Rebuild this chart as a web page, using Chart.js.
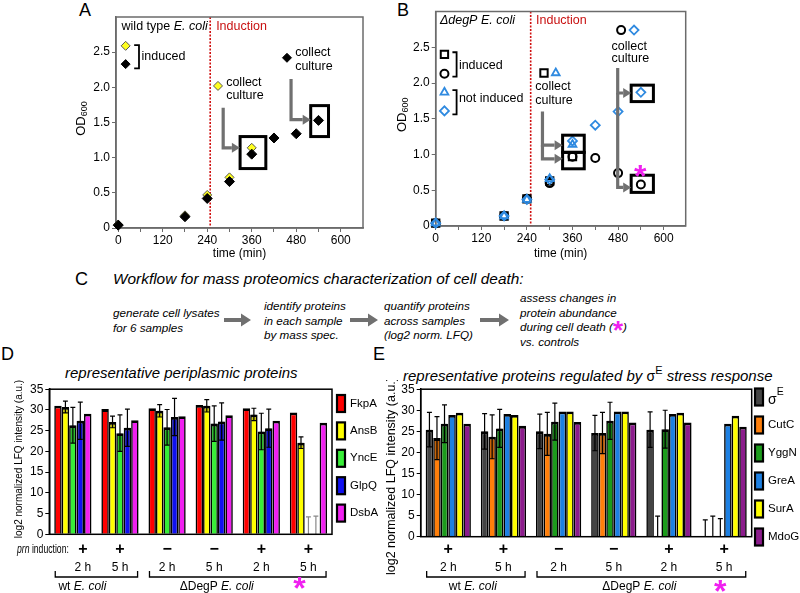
<!DOCTYPE html>
<html>
<head>
<meta charset="utf-8">
<script src="https://cdn.jsdelivr.net/npm/chart.js@4.4.1/dist/chart.umd.min.js"></script>
<style>
  body { margin: 0; width: 800px; height: 593px; position: relative; overflow: hidden; background: #fff;
         font-family: "Liberation Sans", Arial, sans-serif; color: #000; }
  canvas { position: absolute; }
  .t { position: absolute; white-space: nowrap; line-height: 1; }
  .step { position: absolute; white-space: nowrap; font-style: italic; font-size: 11.7px; line-height: 14.6px; }
  .star { color: #f020f0; font-weight: bold; font-style: normal; font-size: 26px; line-height: 0; position: relative; top: 8px; }
</style>
</head>
<body>

<div class="t" style="left:79px;top:1px;font-size:18px">A</div>
<div class="t" style="left:397px;top:1px;font-size:18px">B</div>
<div class="t" style="left:75px;top:270px;font-size:18px">C</div>
<div class="t" style="left:1px;top:345px;font-size:18px">D</div>
<div class="t" style="left:373px;top:345px;font-size:18px">E</div>

<div class="t" style="left:113px;top:271px;font-size:15.4px;font-style:italic">Workflow for mass proteomics characterization of cell death:</div>
<div class="step" style="left:113px;top:306px">generate cell lysates<br>for 6 samples</div>
<div class="step" style="left:264px;top:299px">identify proteins<br>in each sample<br>by mass spec.</div>
<div class="step" style="left:384px;top:299px">quantify proteins<br>across samples<br>(log2 norm. LFQ)</div>
<div class="step" style="left:520px;top:291px">assess changes in<br>protein abundance<br>during cell death (<span class="star">*</span>)<br>vs. controls</div>
<svg style="position:absolute;left:0;top:0" width="800" height="593">
  <g fill="#707070">
    <path d="M224 318 H241 V313.5 L251 320 L241 326.5 V322 H224 Z"/>
    <path d="M350 318 H368 V313.5 L378 320 L368 326.5 V322 H350 Z"/>
    <path d="M480 318 H499 V313.5 L509 320 L499 326.5 V322 H480 Z"/>
  </g>
</svg>

<div class="t" style="left:65px;top:365px;font-size:15px;font-style:italic">representative periplasmic proteins</div>
<div class="t" style="left:403px;top:365px;font-size:15px"><i>representative proteins regulated by </i><span style="font-size:14px">σ</span><sup style="font-size:11px;vertical-align:7px">E</sup><i> stress response</i></div>

<canvas id="chartA" width="320" height="262" style="left:60px;top:0"></canvas>
<canvas id="chartB" width="310" height="262" style="left:390px;top:0"></canvas>
<canvas id="chartD" width="400" height="213" style="left:0;top:380px"></canvas>
<canvas id="chartE" width="420" height="213" style="left:380px;top:380px"></canvas>

<script>
// ---- growth curves (OD600 vs time, min) ----
const timeTicks = [0, 60, 120, 180, 240, 300, 360, 420, 480, 540, 600];
const odTicks = [0, 0.5, 1, 1.5, 2, 2.5];

const wtTimes2h = [0, 180, 240, 300, 360];
const wtInduced2h = [0.05, 0.18, 0.47, 0.72, 1.14];
const wtTimes5h = [0, 180, 240, 300, 360, 420, 480, 540];
const wtInduced5h = [0.04, 0.16, 0.42, 0.66, 1.05, 1.28, 1.34, 1.53];

const degpTimes2h = [0, 180, 240, 300, 360];
const degpInduced2h = [0.04, 0.14, 0.38, 0.63, 0.97];
const degpNotInduced2h = [0.04, 0.14, 0.37, 0.66, 1.14];
const degpTimes5h = [0, 180, 240, 300, 360, 420, 480, 540];
const degpInduced5h = [0.04, 0.14, 0.38, 0.60, 0.97, 0.95, 0.74, 0.58];
const degpNotInduced5h = [0.04, 0.14, 0.37, 0.65, 1.19, 1.41, 1.60, 1.87];

// key markers drawn inside the plots (x in min, y in OD)
const keyYellowA = [[20, 2.59], [269, 2.02]];
const keyBlackA = [[20, 2.33], [455, 2.42]];
const keySquareB = [[23, 2.40], [285, 2.14]];
const keyCircleB = [[23, 2.13], [488, 2.74]];
const keyTriangleB = [[23, 1.87], [316, 2.14]];
const keyDiamondB = [[23, 1.61], [522, 2.74]];

// ---- LFQ bar charts ----
const hourLabels = ['2 h', '5 h', '2 h', '5 h', '2 h', '5 h'];
const inductionSigns = ['+', '+', '\u2212', '\u2212', '+', '+'];

const fkpA = [31.0, 30.2, 30.4, 31.2, 30.4, 29.4];
const ansB = [30.7, 27.1, 29.8, 31.0, 28.9, 22.1];
const ansBErr = [1.4, 1.4, 1.5, 1.5, 1.5, 1.4];
const yncE = [26.3, 24.4, 25.8, 26.7, 24.8, 0];
const yncEErr = [4.3, 4.4, 4.3, 4.3, 4.4, 4.2];
const glpQ = [27.4, 25.7, 28.3, 27.2, 25.6, 0];
const glpQErr = [4.5, 4.5, 4.5, 4.5, 4.6, 4.4];
const dsbA = [29.1, 27.5, 28.5, 28.7, 27.4, 26.9];

const sigmaE = [25.4, 25.0, 25.0, 24.6, 25.4, 0];
const sigmaEErr = [4.1, 4.2, 4.1, 4.2, 4.2, 4.0];
const cutC = [23.4, 23.7, 24.4, 24.6, 0, 0];
const cutCErr = [5.1, 5.2, 5.1, 4.9, 4.9, 4.9];
const yggN = [26.8, 25.7, 27.3, 27.5, 25.5, 0];
const yggNErr = [4.5, 4.5, 4.4, 4.4, 4.5, 4.3];
const greA = [28.9, 29.1, 29.7, 29.7, 29.1, 26.8];
const surA = [29.4, 28.9, 29.7, 29.7, 29.4, 28.7];
const mdoG = [26.8, 26.3, 27.2, 27.1, 27.1, 26.1];

const FONT = '"Liberation Sans", Arial, sans-serif';
Chart.defaults.font.family = FONT;
Chart.defaults.color = '#000';

const pts = (xs, ys) => xs.map((x, i) => ({ x: x, y: ys[i] }));
const keyPts = arr => arr.map(p => ({ x: p[0], y: p[1] }));

// draws a run of styled text pieces; sx squeezes the run horizontally
function drawSegs(ctx, segs, x, y, size, align, sx) {
  sx = sx || 1;
  const fontOf = s => (s.i ? 'italic ' : '') + (s.b ? 'bold ' : '') + (s.size || size) + 'px ' + FONT;
  let w = 0;
  segs.forEach(s => { ctx.font = fontOf(s); w += ctx.measureText(s.t).width; });
  w *= sx;
  const x0 = align === 'center' ? x - w / 2 : align === 'right' ? x - w : x;
  ctx.save();
  ctx.translate(x0, y);
  ctx.scale(sx, 1);
  ctx.textAlign = 'left';
  ctx.textBaseline = 'middle';
  let cx = 0;
  segs.forEach(s => {
    ctx.font = fontOf(s);
    ctx.fillStyle = s.c || '#000';
    ctx.fillText(s.t, cx, s.dy || 0);
    cx += ctx.measureText(s.t).width;
  });
  ctx.restore();
}

function drawStar(ctx, x, y) {
  const size = 32;
  ctx.font = 'bold ' + size + 'px ' + FONT;
  ctx.fillStyle = '#f020f0';
  ctx.textAlign = 'center';
  ctx.textBaseline = 'alphabetic';
  ctx.fillText('*', x, y + size * 0.58);
}

function drawArrow(ctx, path) {
  const n = path.length;
  const [x1, y1] = path[n - 2], [x2, y2] = path[n - 1];
  const ang = Math.atan2(y2 - y1, x2 - x1);
  const head = 8;
  ctx.beginPath();
  ctx.moveTo(path[0][0], path[0][1]);
  for (let i = 1; i < n - 1; i++) ctx.lineTo(path[i][0], path[i][1]);
  ctx.lineTo(x2 - Math.cos(ang) * head, y2 - Math.sin(ang) * head);
  ctx.stroke();
  ctx.beginPath();
  ctx.moveTo(x2, y2);
  ctx.lineTo(x2 - Math.cos(ang) * head - Math.sin(ang) * 5, y2 - Math.sin(ang) * head + Math.cos(ang) * 5);
  ctx.lineTo(x2 - Math.cos(ang) * head + Math.sin(ang) * 5, y2 - Math.sin(ang) * head - Math.cos(ang) * 5);
  ctx.closePath();
  ctx.fill();
}

function makeScatterDecor(cfg) {
  return {
    id: 'scatterDecor',
    beforeDatasetsDraw(chart) {
      const { ctx, chartArea: a, scales: { x } } = chart;
      ctx.save();
      // induction line
      const ix = x.getPixelForValue(cfg.induction);
      ctx.strokeStyle = '#d01010';
      ctx.lineWidth = 1.6;
      ctx.setLineDash([2, 1.5]);
      ctx.beginPath();
      ctx.moveTo(ix, a.top);
      ctx.lineTo(ix, a.bottom);
      ctx.stroke();
      ctx.setLineDash([]);
      // frame
      ctx.strokeStyle = '#6b6b6b';
      ctx.lineWidth = 1.5;
      ctx.strokeRect(a.left, a.top, a.right - a.left, a.bottom - a.top);
      ctx.restore();
    },
    afterDatasetsDraw(chart) {
      const { ctx, chartArea: a, scales: { x, y } } = chart;
      const px = v => x.getPixelForValue(v), py = v => y.getPixelForValue(v);
      ctx.save();
      ctx.strokeStyle = '#000';
      ctx.lineWidth = 3;
      cfg.boxes.forEach(b => ctx.strokeRect(px(b[0]), py(b[3]), px(b[1]) - px(b[0]), py(b[2]) - py(b[3])));
      ctx.lineWidth = 1.8;
      cfg.brackets.forEach(b => {
        ctx.beginPath();
        ctx.moveTo(px(b.x1), py(b.y1));
        ctx.lineTo(px(b.x2), py(b.y1));
        ctx.lineTo(px(b.x2), py(b.y2));
        ctx.lineTo(px(b.x1), py(b.y2));
        ctx.stroke();
      });
      ctx.strokeStyle = '#707070';
      ctx.fillStyle = '#707070';
      ctx.lineWidth = 3.2;
      cfg.arrows.forEach(p => drawArrow(ctx, p.map(q => [px(q[0]), py(q[1])])));
      cfg.texts.forEach(t => drawSegs(ctx, t.segs, px(t.x), py(t.y), 12.5, 'left'));
      cfg.stars.forEach(s => drawStar(ctx, px(s[0]), py(s[1])));
      // y title OD600
      ctx.translate(cfg.titleX, (a.top + a.bottom) / 2 - 4);
      ctx.rotate(-Math.PI / 2);
      drawSegs(ctx, [{ t: 'OD' }, { t: '600', size: 9, dy: 4 }], 0, 0, 13, 'center');
      ctx.restore();
    }
  };
}

function scatterChart(id, datasets, decor, xmin, xmax, dims) {
  return new Chart(document.getElementById(id), {
    type: 'scatter',
    data: { datasets: datasets },
    options: {
      responsive: false,
      animation: false,
      devicePixelRatio: 1,
      layout: { padding: { top: dims.top, right: dims.right, left: 0, bottom: 0 } },
      plugins: { legend: { display: false }, tooltip: { enabled: false } },
      scales: {
        x: {
          type: 'linear', min: xmin, max: xmax,
          afterBuildTicks: s => { s.ticks = timeTicks.map(v => ({ value: v })); },
          afterFit: s => { s.height = dims.xh; },
          ticks: { autoSkip: false, maxRotation: 0, padding: 1, font: { size: 12 },
                   callback: v => (v % 120 === 0 ? String(v) : '') },
          grid: { drawOnChartArea: false, tickLength: 4, color: '#6b6b6b' },
          border: { color: '#6b6b6b', width: 1.5 },
          title: { display: true, text: 'time (min)', font: { size: 12 }, padding: { top: 0, bottom: 1 } }
        },
        y: {
          min: 0, max: 3,
          afterBuildTicks: s => { s.ticks = odTicks.map(v => ({ value: v })); },
          afterFit: s => { s.width = dims.yw; },
          ticks: { padding: 2, font: { size: 12 }, callback: v => (v === 0 ? '0' : v.toFixed(1)) },
          grid: { drawOnChartArea: false, tickLength: 4, color: '#6b6b6b' },
          border: { color: '#6b6b6b', width: 1.5 }
        }
      }
    },
    plugins: [decor]
  });
}

const BLUE = '#2f8ae0';
const marker = (label, data, style, r, fill, stroke, bw) => ({
  label: label, data: data, pointStyle: style, pointRadius: r,
  pointBackgroundColor: fill, pointBorderColor: stroke, pointBorderWidth: bw, clip: false
});

scatterChart('chartA', [
  marker('induced 5 h', pts(wtTimes5h, wtInduced5h), 'rectRot', 5, '#000', '#000', 1),
  marker('key black', keyPts(keyBlackA), 'rectRot', 4.5, '#000', '#000', 1),
  marker('induced 2 h', pts(wtTimes2h, wtInduced2h), 'rectRot', 4.5, '#ffff20', '#555', 1),
  marker('key yellow', keyPts(keyYellowA), 'rectRot', 4.5, '#ffff20', '#555', 1)
], makeScatterDecor({
  induction: 248,
  titleX: 21,
  texts: [
    { x: 9, y: 2.87, segs: [{ t: 'wild type ' }, { t: 'E. coli', i: true }] },
    { x: 264, y: 2.87, segs: [{ t: 'Induction', c: '#c81010' }] },
    { x: 63, y: 2.44, segs: [{ t: 'induced' }] },
    { x: 291, y: 2.07, segs: [{ t: 'collect' }] },
    { x: 291, y: 1.88, segs: [{ t: 'culture' }] },
    { x: 477, y: 2.49, segs: [{ t: 'collect' }] },
    { x: 477, y: 2.30, segs: [{ t: 'culture' }] }
  ],
  brackets: [{ x1: 43, x2: 56, y1: 2.60, y2: 2.27 }],
  arrows: [[[283, 1.71], [283, 1.14], [328, 1.14]], [[466, 2.12], [466, 1.54], [519, 1.54]]],
  boxes: [[328.6, 398, 0.845, 1.30], [519, 567, 1.30, 1.74]],
  stars: []
}), -6, 660, { top: 17, right: 17, yw: 56, xh: 34 });

scatterChart('chartB', [
  marker('not induced 2 h', pts(degpTimes2h, degpNotInduced2h), 'triangle', 4.5, 'rgba(0,0,0,0)', BLUE, 1.8),
  marker('not induced 5 h', pts(degpTimes5h, degpNotInduced5h), 'rectRot', 4.5, 'rgba(0,0,0,0)', BLUE, 1.8),
  marker('induced 2 h', pts(degpTimes2h, degpInduced2h), 'rect', 5.2, 'rgba(0,0,0,0)', '#000', 2),
  marker('induced 5 h', pts(degpTimes5h, degpInduced5h), 'circle', 4, 'rgba(0,0,0,0)', '#000', 2),
  marker('key square', keyPts(keySquareB), 'rect', 5.2, 'rgba(0,0,0,0)', '#000', 2),
  marker('key circle', keyPts(keyCircleB), 'circle', 4, 'rgba(0,0,0,0)', '#000', 2),
  marker('key triangle', keyPts(keyTriangleB), 'triangle', 4.5, 'rgba(0,0,0,0)', BLUE, 1.8),
  marker('key diamond', keyPts(keyDiamondB), 'rectRot', 4.5, 'rgba(0,0,0,0)', BLUE, 1.8)
], makeScatterDecor({
  induction: 250,
  titleX: 12,
  texts: [
    { x: 11, y: 2.88, segs: [{ t: '\u0394degP E. coli', i: true }] },
    { x: 264, y: 2.88, segs: [{ t: 'Induction', c: '#c81010' }] },
    { x: 61, y: 2.25, segs: [{ t: 'induced' }] },
    { x: 61, y: 1.78, segs: [{ t: 'not induced' }] },
    { x: 262, y: 1.95, segs: [{ t: 'collect' }] },
    { x: 262, y: 1.76, segs: [{ t: 'culture' }] },
    { x: 463, y: 2.51, segs: [{ t: 'collect' }] },
    { x: 463, y: 2.34, segs: [{ t: 'culture' }] }
  ],
  brackets: [{ x1: 44, x2: 55, y1: 2.43, y2: 2.09 }, { x1: 44, x2: 55, y1: 1.90, y2: 1.56 }],
  arrows: [
    [[281, 1.60], [281, 1.13], [334, 1.13]], [[281, 1.13], [281, 0.94], [334, 0.94]],
    [[479, 2.21], [479, 1.86], [514.5, 1.86]], [[479, 1.86], [479, 0.54], [514.5, 0.54]]
  ],
  boxes: [[334, 391, 1.03, 1.27], [334, 391, 0.80, 1.03], [514.5, 573, 1.74, 1.97], [514.5, 573, 0.47, 0.71]],
  stars: [[538, 0.80]]
}), 0, 658, { top: 11.5, right: 14.3, yw: 45.7, xh: 36 });

// ---- bar charts ----
function makeBarDecor(cfg) {
  return {
    id: 'barDecor',
    afterDatasetsDraw(chart) {
      const { ctx, scales: { y } } = chart;
      ctx.save();
      chart.data.datasets.forEach((ds, di) => {
        if (!ds.err) return;
        chart.getDatasetMeta(di).data.forEach((bar, i) => {
          const v = ds.data[i], e = ds.err[i];
          if (!e) return;
          const hi = y.getPixelForValue(v + e), lo = y.getPixelForValue(Math.max(0, v - e));
          const top = y.getPixelForValue(v), half = bar.width * 0.33;
          if (v > 0) {
            ctx.fillStyle = 'rgba(0,0,0,0.22)';
            ctx.fillRect(bar.x - half, top, half * 2, lo - top);
          }
          ctx.strokeStyle = v > 0 ? '#000' : cfg.zeroErrColor;
          ctx.lineWidth = 1.2;
          ctx.beginPath();
          ctx.moveTo(bar.x, hi); ctx.lineTo(bar.x, lo);
          ctx.moveTo(bar.x - half, hi); ctx.lineTo(bar.x + half, hi);
          if (v > 0) { ctx.moveTo(bar.x - half, lo); ctx.lineTo(bar.x + half, lo); }
          ctx.stroke();
        });
      });
      ctx.restore();
    },
    afterDraw(chart) {
      const { ctx, chartArea: a, scales: { x } } = chart;
      ctx.save();
      ctx.strokeStyle = '#000';
      ctx.lineWidth = 1.5;
      ctx.strokeRect(a.left, a.top, a.right - a.left, a.bottom - a.top);

      // y title
      ctx.save();
      ctx.translate(cfg.titleX, cfg.titleY);
      ctx.rotate(-Math.PI / 2);
      drawSegs(ctx, [{ t: 'log2 normalized LFQ intensity (a.u.)' }], 0, 0, cfg.titleSize, 'center');
      ctx.restore();

      // legend
      chart.data.datasets.forEach((ds, i) => {
        const ly = cfg.legendTop + i * cfg.legendStep;
        ctx.fillStyle = ds.backgroundColor;
        ctx.fillRect(cfg.legendX, ly - 8.5, 8, 17);
        ctx.strokeStyle = '#000';
        ctx.lineWidth = 2.2;
        ctx.strokeRect(cfg.legendX, ly - 8.5, 8, 17);
        const parts = ds.label.split('|');
        const segs = parts.length > 1
          ? [{ t: parts[0], size: 14, dy: 3 }, { t: parts[1], size: 10.5, dy: -5 }]
          : [{ t: parts[0] }];
        drawSegs(ctx, segs, cfg.legendX + 13, ly, 11.5, 'left');
      });

      // induction signs and hours
      const catW = (a.right - a.left) / hourLabels.length;
      const half = catW * cfg.catPct / 2;
      const cx = i => x.getPixelForValue(i) + (i === 0 ? cfg.firstDx : 0);
      inductionSigns.forEach((s, i) => drawSegs(ctx, [{ t: s, b: true }], cx(i), cfg.signY, 16, 'center'));
      hourLabels.forEach((h, i) => drawSegs(ctx, [{ t: h }], cx(i), cfg.hourY, 12, 'center'));
      if (cfg.prnLabel) drawSegs(ctx, [{ t: 'prn', i: true }, { t: ' induction:' }], 17, cfg.signY, 12, 'left', 0.72);

      // strain brackets
      ctx.strokeStyle = '#000';
      ctx.lineWidth = 1.3;
      cfg.groups.forEach(g => {
        const x1 = x.getPixelForValue(g.from) - half + 1, x2 = x.getPixelForValue(g.to) + half - 1;
        ctx.beginPath();
        ctx.moveTo(x1, cfg.hourY + 3);
        ctx.lineTo(x1, cfg.hourY + 9);
        ctx.lineTo(x2, cfg.hourY + 9);
        ctx.lineTo(x2, cfg.hourY + 3);
        ctx.stroke();
        drawSegs(ctx, g.segs, (x1 + x2) / 2 + g.dx, cfg.hourY + 19, 12, 'center');
      });
      drawStar(ctx, x.getPixelForValue(5) + cfg.starDx, cfg.starY);
      ctx.restore();
    }
  };
}

const strainGroups = (dxWt, dxDegp) => [
  { from: 0, to: 1, dx: dxWt, segs: [{ t: 'wt ' }, { t: 'E. coli', i: true }] },
  { from: 2, to: 5, dx: dxDegp, segs: [{ t: '\u0394DegP ' }, { t: 'E. coli', i: true }] }
];

function barChart(id, datasets, cfg) {
  return new Chart(document.getElementById(id), {
    type: 'bar',
    data: { labels: hourLabels, datasets: datasets },
    options: {
      responsive: false,
      animation: false,
      devicePixelRatio: 1,
      layout: { padding: { top: cfg.top, right: cfg.right, bottom: cfg.bottom, left: 0 } },
      datasets: { bar: { categoryPercentage: cfg.catPct, barPercentage: 1 } },
      plugins: { legend: { display: false }, tooltip: { enabled: false } },
      scales: {
        x: { display: false },
        y: {
          min: 0, max: 35,
          afterFit: s => { s.width = cfg.yw; },
          ticks: { stepSize: 5, font: { size: 12 }, padding: 2 },
          grid: { drawOnChartArea: false, tickLength: 4, color: '#000' },
          border: { color: '#000', width: 1.5 }
        }
      }
    },
    plugins: [makeBarDecor(cfg)]
  });
}

const bar = (label, data, color, err) => ({
  label: label, data: data, err: err, backgroundColor: color, borderColor: '#000',
  borderWidth: { top: 2.8, left: 1.6, right: 1.6, bottom: 0 }, borderSkipped: 'bottom'
});

barChart('chartD', [
  bar('FkpA', fkpA, '#ff0000'),
  bar('AnsB', ansB, '#ffff00', ansBErr),
  bar('YncE', yncE, '#38ee38', yncEErr),
  bar('GlpQ', glpQ, '#1010f0', glpQErr),
  bar('DsbA', dsbA, '#f020f0')
], {
  top: 7.5, right: 68, bottom: 58.7, yw: 49.3, catPct: 0.79,
  titleX: 19, titleY: 79, titleSize: 10,
  legendX: 337, legendTop: 23.5, legendStep: 27.4,
  signY: 170, hourY: 188, prnLabel: true, firstDx: 10,
  groups: strainGroups(-14, -21), starDx: -9, starY: 200, zeroErrColor: '#888'
});

barChart('chartE', [
  bar('\u03c3|E', sigmaE, '#444444', sigmaEErr),
  bar('CutC', cutC, '#ff7f0a', cutCErr),
  bar('YggN', yggN, '#1c9c1c', yggNErr),
  bar('GreA', greA, '#1d80e2'),
  bar('SurA', surA, '#ffff00'),
  bar('MdoG', mdoG, '#8c1c8c')
], {
  top: 8, right: 48.3, bottom: 56.3, yw: 40.7, catPct: 0.82,
  titleX: 12, titleY: 96, titleSize: 12.5,
  legendX: 375, legendTop: 17, legendStep: 28,
  signY: 170, hourY: 188, prnLabel: false, firstDx: 0,
  groups: strainGroups(-3, -2), starDx: -4, starY: 203, zeroErrColor: '#000'
});
</script>
</body>
</html>
